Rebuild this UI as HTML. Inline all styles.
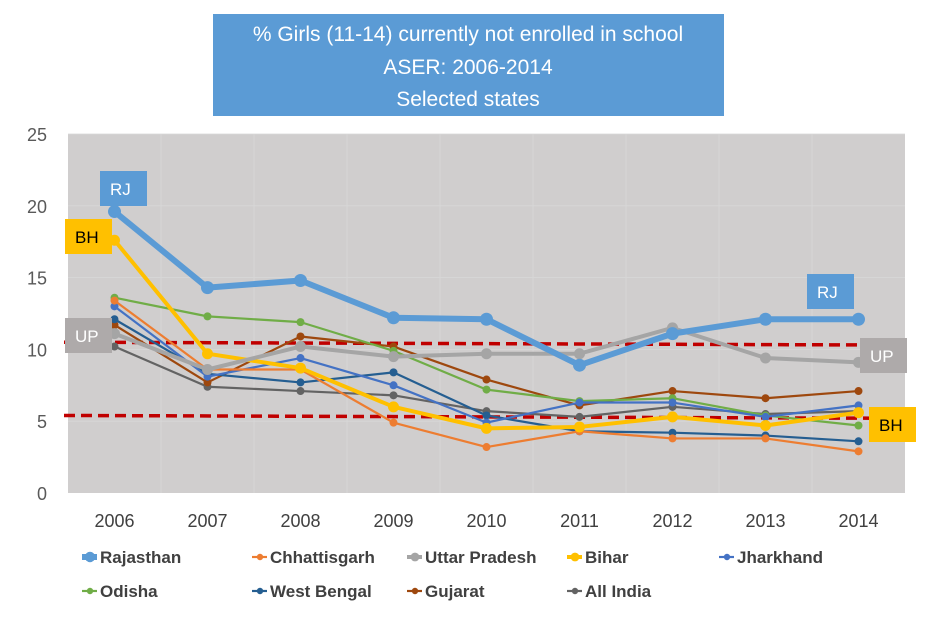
<!DOCTYPE html>
<html><head><meta charset="utf-8"><style>
body{margin:0;background:#fff;width:933px;height:620px;overflow:hidden;font-family:"Liberation Sans",sans-serif}
svg text{font-family:"Liberation Sans",sans-serif}
</style></head><body>
<svg id="chart" width="933" height="620">
<rect x="213" y="14" width="511" height="102" fill="#5b9bd5"/>
<text x="468" y="41" text-anchor="middle" fill="#fff" font-size="21">% Girls (11-14) currently not enrolled in school</text>
<text x="468" y="74" text-anchor="middle" fill="#fff" font-size="21">ASER: 2006-2014</text>
<text x="468" y="106" text-anchor="middle" fill="#fff" font-size="21">Selected states</text>
<rect x="68" y="134" width="837" height="359" fill="#d0cece"/>
<g id="grid"></g><g id="ticks"></g><g id="refs"></g><g id="series"></g><g id="labels"></g><g id="legend"></g>
</svg>
<script>
const years=["2006","2007","2008","2009","2010","2011","2012","2013","2014"];
const yTicks=[0,5,10,15,20,25];
const rajasthan=[19.6,14.3,14.8,12.2,12.1,8.9,11.1,12.1,12.1];
const chhattisgarh=[13.4,8.6,8.6,4.9,3.2,4.3,3.8,3.8,2.9];
const uttarPradesh=[11.1,8.6,10.2,9.5,9.7,9.7,11.5,9.4,9.1];
const bihar=[17.6,9.7,8.7,6.0,4.5,4.6,5.3,4.7,5.6];
const jharkhand=[13.0,8.1,9.4,7.5,4.9,6.3,6.3,5.3,6.1];
const odisha=[13.6,12.3,11.9,9.9,7.2,6.4,6.6,5.4,4.7];
const westBengal=[12.1,8.3,7.7,8.4,5.4,4.3,4.2,4.0,3.6];
const gujarat=[11.7,7.7,10.9,10.2,7.9,6.1,7.1,6.6,7.1];
const allIndia=[10.2,7.4,7.1,6.8,5.7,5.3,6.0,5.5,5.7];
const refUP=[10.5,10.3];
const refBH=[5.4,5.2];
const seriesNames=["Rajasthan","Chhattisgarh","Uttar Pradesh","Bihar","Jharkhand","Odisha","West Bengal","Gujarat","All India"];

const NS="http://www.w3.org/2000/svg";
const L=68,R=905,T=134,B=493;
const x=i=>L+(R-L)/years.length*(i+0.5);
const y=v=>B-(B-T)*v/25;
function mk(tag,attrs,parent){const e=document.createElementNS(NS,tag);for(const k in attrs)e.setAttribute(k,attrs[k]);document.getElementById(parent).appendChild(e);return e;}

yTicks.forEach(t=>{
 if(t>0){const g=mk('line',{x1:L,x2:R,y1:y(t),y2:y(t),stroke:'#d8d8d8','stroke-width':0.8},'grid');
 
 }
 const tx=mk('text',{x:47,y:y(t)+7,'text-anchor':'end','font-size':18,fill:'#595959'},'ticks');
 tx.textContent=t;
 
 
});
years.forEach((yr,i)=>{
 if(i>0){const g=mk('line',{x1:L+(R-L)/9*i,x2:L+(R-L)/9*i,y1:T,y2:B,stroke:'#d8d8d8','stroke-width':0.8},'grid');
 
 }
 const tx=mk('text',{x:x(i),y:527,'text-anchor':'middle','font-size':18,fill:'#404040'},'ticks');
 tx.textContent=yr;
 
 
});
[[refUP,'reference-line-up'],[refBH,'reference-line-bh']].forEach(([r,n])=>{
 const l=mk('line',{x1:64,x2:905,y1:y(r[0]),y2:y(r[1]),stroke:'#c00000','stroke-width':3.5,'stroke-dasharray':'11 6'},'refs');
 
 
});
const styles=[
 [rajasthan,'#5b9bd5',6,6.5],[chhattisgarh,'#ed7d31',2.2,4],[uttarPradesh,'#a5a5a5',4,5.5],[bihar,'#ffc000',4,5.5],
 [jharkhand,'#4472c4',2.2,4],[odisha,'#70ad47',2.2,4],[westBengal,'#255e91',2.2,4],[gujarat,'#9e480e',2.2,4],[allIndia,'#636363',2.2,4]];
const order=[8,7,6,5,4,1,3,2,0];
order.forEach(si=>{
 const [d,c,w,r]=styles[si];
 const p=mk('polyline',{points:d.map((v,i)=>x(i)+','+y(v)).join(' '),fill:'none',stroke:c,'stroke-width':w,'stroke-linejoin':'round'},'series');
 
 
 d.forEach((v,i)=>{const m=mk('circle',{cx:x(i),cy:y(v),r:r,fill:c},'series');
  
  });
});
const tags=[["RJ",100,171,'#5b9bd5','#fff'],["BH",65,219,'#ffc000','#000'],["UP",65,318,'#aeaaaa','#fff'],
 ["RJ",807,274,'#5b9bd5','#fff'],["UP",860,338,'#aeaaaa','#fff'],["BH",869,407,'#ffc000','#000']];
tags.forEach(([t,bx,by,bg,fg])=>{
 const b=mk('rect',{x:bx,y:by,width:47,height:35,fill:bg},'labels');
 
 
 const tx=mk('text',{x:bx+10,y:by+24,'font-size':17,fill:fg},'labels');
 tx.textContent=t;
 
 
});
const legPos=[[100,557],[270,557],[425,557],[585,557],[737,557],[100,591],[270,591],[425,591],[585,591]];
seriesNames.forEach((n,i)=>{
 const [lx,ly]=legPos[i];const [d,c,w,r]=styles[i];
 const l=mk('line',{x1:lx-18,x2:lx-3,y1:ly,y2:ly,stroke:c,'stroke-width':w},'legend');
 
 
 const m=mk('circle',{cx:lx-10,cy:ly,r:r*0.8,fill:c},'legend');
 
 
 const tx=mk('text',{x:lx,y:ly+6,'font-size':17,'font-weight':'bold',fill:'#404040'},'legend');
 tx.textContent=n;
 
 
});
</script>
</body></html>
